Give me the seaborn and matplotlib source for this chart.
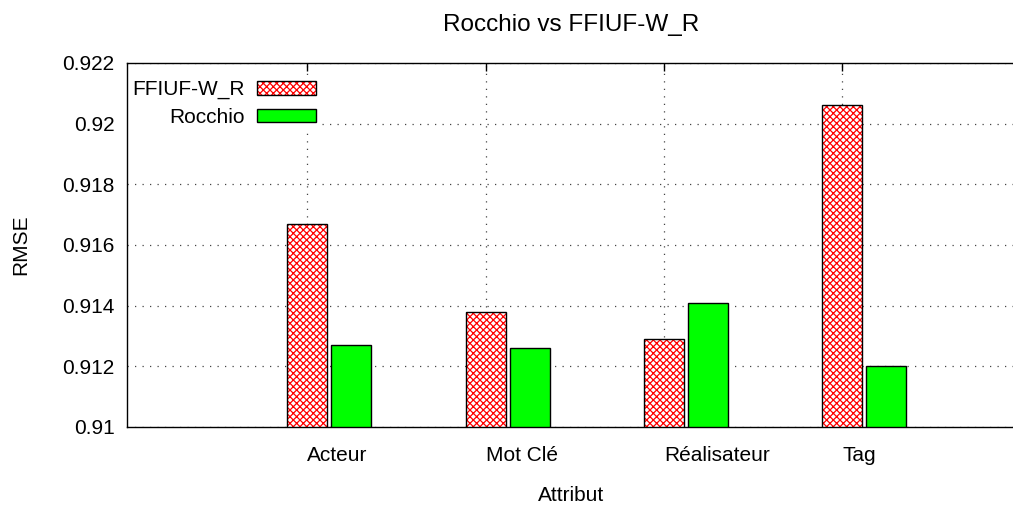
import numpy as np
import pandas as pd
import seaborn as sns
import matplotlib.pyplot as plt
import matplotlib.patches as mpatches
from matplotlib.legend_handler import HandlerTuple

# --- données ---
attributs = ["Acteur", "Mot Clé", "Réalisateur", "Tag"]
methodes = ["FFIUF-W_R", "Rocchio"]
rmse_ffiuf = [0.9167, 0.9138, 0.9129, 0.9206]
rmse_rocchio = [0.9127, 0.9126, 0.9141, 0.9120]
yticks = [0.91, 0.912, 0.914, 0.916, 0.918, 0.92, 0.922]
ytick_labels = ["0.91", "0.912", "0.914", "0.916", "0.918", "0.92", "0.922"]

df = pd.DataFrame({
    "Attribut": attributs * 2,
    "Methode": [methodes[0]] * 4 + [methodes[1]] * 4,
    "RMSE": rmse_ffiuf + rmse_rocchio,
})

sns.set_style("white")
plt.rcParams["font.family"] = ["Liberation Sans", "DejaVu Sans"]
plt.rcParams["hatch.linewidth"] = 0.9
for k in ["text.color", "axes.labelcolor", "xtick.color", "ytick.color"]:
    plt.rcParams[k] = "black"

FS = 15

fig = plt.figure(figsize=(10.13, 5.07), dpi=100)
ax = fig.add_axes([127 / 1013, 1 - 427 / 507, (1016 - 127) / 1013, (427 - 63) / 507])

sns.barplot(data=df, x="Attribut", y="RMSE", hue="Methode", order=attributs,
            hue_order=methodes, palette={"FFIUF-W_R": "white", "Rocchio": "#00ff00"},
            width=0.494, gap=0.09, saturation=1, edgecolor="black", linewidth=1,
            legend=False, ax=ax)

# barres hachurées rouges (style gnuplot) + contour noir
for p in ax.containers[0].patches:
    p.set_hatch("xxxxx")
    p.set_edgecolor("red")
    p.set_linewidth(0)
    ax.add_patch(mpatches.Rectangle(p.get_xy(), p.get_width(), p.get_height(),
                                    fill=False, edgecolor="black", linewidth=1,
                                    zorder=p.get_zorder() + 0.1))

# ticks et grille sur les barres FFIUF, étiquettes alignées à gauche (gnuplot)
centres = [p.get_x() + p.get_width() / 2 for p in ax.containers[0].patches]
ax.set_xticks(centres)
ax.set_xticklabels(attributs, fontsize=FS, ha="left")
ax.tick_params(axis="x", direction="in", length=6, width=1, top=True, bottom=True, pad=14)

ax.set_xlim(centres[0] - 1.011, centres[0] - 1.011 + 889 / 178.3)
ax.set_ylim(0.91, 0.922)
ax.set_yticks(yticks)
ax.set_yticklabels(ytick_labels, fontsize=FS)
ax.tick_params(axis="y", direction="in", length=9, width=1, pad=9)

ax.set_axisbelow(True)
ax.grid(True, color="#444444", linestyle=(0, (1, 5)), linewidth=0.9)

for s in ["left", "bottom", "top"]:
    ax.spines[s].set_color("black")
    ax.spines[s].set_linewidth(1)
ax.spines["right"].set_visible(False)

ax.set_xlabel("Attribut", fontsize=FS, labelpad=15)
ax.set_ylabel("RMSE", fontsize=FS, labelpad=23)
ax.set_title("Rocchio vs FFIUF-W_R", fontsize=17.5, pad=23)

# légende : texte à gauche, échantillon à droite
h_ffiuf = (mpatches.Patch(facecolor="white", edgecolor="red", hatch="xxxxx", linewidth=0),
           mpatches.Patch(fill=False, edgecolor="black", linewidth=1))
h_rocchio = mpatches.Patch(facecolor="#00ff00", edgecolor="black", linewidth=1)
leg = ax.legend([h_ffiuf, h_rocchio], methodes, loc="upper left",
                bbox_to_anchor=(0.0, 0.967), markerfirst=False, fontsize=FS,
                handlelength=2.84, handleheight=0.62, handletextpad=0.58,
                labelspacing=0.4, borderpad=0.25, borderaxespad=0,
                frameon=True, fancybox=False, framealpha=1,
                handler_map={tuple: HandlerTuple(ndivide=1)})
leg.get_frame().set_edgecolor("none")
leg.set_zorder(2)  # sous les bords du cadre, au-dessus de la grille

fig.savefig("out.png", dpi=100)
